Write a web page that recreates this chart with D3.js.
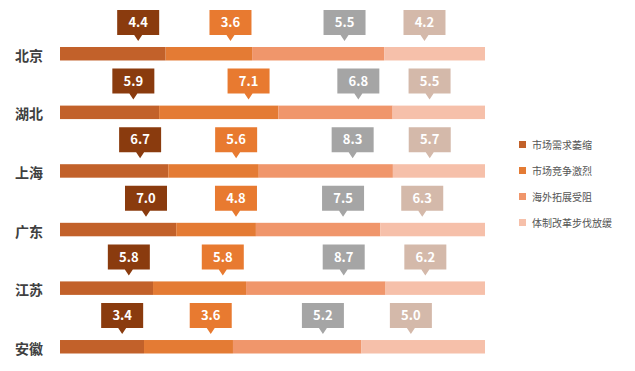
<!DOCTYPE html>
<html lang="zh">
<head>
<meta charset="UTF-8">
<title>chart</title>
<script src="https://d3js.org/d3.v7.min.js"></script>
<style>
  body { margin: 0; background: #fff; }
  text { font-family: "Noto Sans CJK SC", "Noto Sans", sans-serif; }
</style>
</head>
<body>
<div id="chart"></div>
<script>
// data
var provinces = ["北京", "湖北", "上海", "广东", "江苏", "安徽"];
var seriesNames = ["市场需求萎缩", "市场竞争激烈", "海外拓展受阻", "体制改革步伐放缓"];
var demand  = [4.4, 5.9, 6.7, 7.0, 5.8, 3.4];
var compete = [3.6, 7.1, 5.6, 4.8, 5.8, 3.6];
var abroad  = [5.5, 6.8, 8.3, 7.5, 8.7, 5.2];
var reform  = [4.2, 5.5, 5.7, 6.3, 6.2, 5.0];

var barColors  = ["#c2612a", "#e47b34", "#f0966b", "#f6c0aa"];
var tagColors  = ["#8a3b0e", "#e87a30", "#a5a5a5", "#d4b9aa"];
var tagAnchor  = [0.74, 0.75, 0.7, 0.4]; // where the callout sits inside its segment

var W = 635, H = 371;
var svg = d3.select("#chart").append("svg").attr("width", W).attr("height", H);

var rows = provinces.map(function(p, i) {
  return { name: p, s0: demand[i], s1: compete[i], s2: abroad[i], s3: reform[i] };
});
var keys = ["s0", "s1", "s2", "s3"];
var stack = d3.stack().keys(keys).offset(d3.stackOffsetExpand)(rows);

var x = d3.scaleLinear().domain([0, 1]).range([60, 485]);
var y = d3.scaleBand().domain(provinces).range([47, 353.5]).paddingInner(0.77).paddingOuter(0);

var barH = y.bandwidth();

// bars
var layer = svg.selectAll("g.layer").data(stack).enter().append("g")
  .attr("class", "layer").attr("fill", function(d, i) { return barColors[i]; });
layer.selectAll("rect").data(function(d) { return d; }).enter().append("rect")
  .attr("x", function(d) { return x(d[0]); })
  .attr("y", function(d) { return y(d.data.name); })
  .attr("width", function(d) { return x(d[1]) - x(d[0]); })
  .attr("height", barH);

// category labels
svg.selectAll("text.cat").data(provinces).enter().append("text")
  .attr("class", "cat")
  .attr("x", 15).attr("y", function(d) { return y(d) + barH / 2 + 2; })
  .attr("dy", "0.36em")
  .attr("font-size", 14).attr("font-weight", "bold").attr("fill", "#404040")
  .text(function(d) { return d; });

// callouts
var bw = 42, bh = 25, gap = 12, tip = 6;
stack.forEach(function(layerData, si) {
  var g = svg.append("g");
  layerData.forEach(function(d) {
    var cx = x(d[0] + (d[1] - d[0]) * tagAnchor[si]);
    var by = y(d.data.name) - gap - bh;
    var left = cx - bw / 2;
    var path = "M" + left + "," + by +
      "h" + bw + "v" + bh +
      "H" + (cx + 4) + "l-4," + tip + "l-4," + (-tip) +
      "H" + left + "Z";
    g.append("path").attr("d", path).attr("fill", tagColors[si]);
    g.append("text")
      .attr("x", cx).attr("y", by + bh / 2).attr("dy", "0.36em")
      .attr("text-anchor", "middle")
      .attr("font-size", 13).attr("font-weight", "bold").attr("fill", "#fff")
      .text(d.data[keys[si]].toFixed(1));
  });
});

// legend
var legend = svg.append("g").attr("transform", "translate(519,145)");
seriesNames.forEach(function(n, i) {
  var row = legend.append("g").attr("transform", "translate(0," + (i * 26) + ")");
  row.append("rect").attr("x", 0).attr("y", -4).attr("width", 7).attr("height", 7)
    .attr("fill", barColors[i]);
  row.append("text").attr("x", 13).attr("y", 0).attr("dy", "0.35em")
    .attr("font-size", 10).attr("fill", "#555")
    .text(n);
});
</script>
</body>
</html>
